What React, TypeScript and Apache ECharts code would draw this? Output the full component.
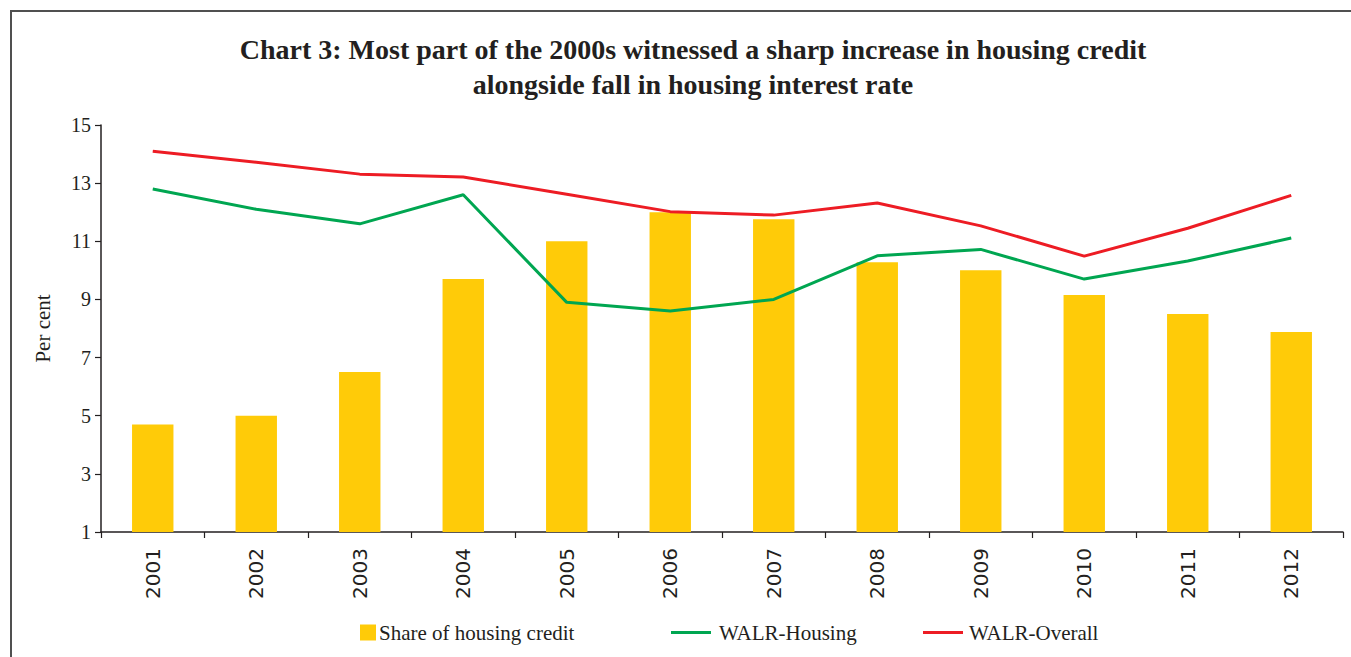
import React, { useEffect, useRef } from "react";
import * as echarts from "echarts";

const categories = ["2001", "2002", "2003", "2004", "2005", "2006", "2007", "2008", "2009", "2010", "2011", "2012"];
const shareHousingCredit = [4.7, 5.0, 6.5, 9.7, 11.0, 12.0, 11.76, 10.28, 10.0, 9.15, 8.5, 7.88];
const walrHousing = [12.8, 12.1, 11.6, 12.6, 8.9, 8.6, 9.0, 10.5, 10.72, 9.7, 10.32, 11.11];
const walrOverall = [14.1, 13.72, 13.31, 13.21, 12.62, 12.02, 11.9, 12.32, 11.53, 10.49, 11.45, 12.58];
const yTicks = [1, 3, 5, 7, 9, 11, 13, 15];

const serif = "'Liberation Serif', 'DejaVu Serif', serif";
const sans = "'DejaVu Sans', sans-serif";
const ink = "#231f20";

export default function App() {
  const ref = useRef<HTMLDivElement>(null);
  useEffect(() => {
    if (!ref.current) return;
    const chart = echarts.init(ref.current, null, { renderer: "svg" });
    chart.setOption({
      animation: false,
      backgroundColor: "#ffffff",
      title: {
        text: "Chart 3: Most part of the 2000s witnessed a sharp increase in housing credit\nalongside fall in housing interest rate",
        left: 688,
        top: 27,
        textAlign: "center",
        textStyle: { fontFamily: serif, fontWeight: "bold", fontSize: 28, lineHeight: 35, color: ink },
      },
      graphic: [
        { type: "line", shape: { x1: 10, y1: 11, x2: 1351, y2: 11 }, style: { stroke: "#505050", lineWidth: 2 } },
        { type: "line", shape: { x1: 11, y1: 10, x2: 11, y2: 657 }, style: { stroke: "#505050", lineWidth: 2 } },
      ],
      legend: [
        {
          data: [{ name: "Share of housing credit", icon: "rect" }],
          left: 355,
          top: 617,
          itemWidth: 16,
          itemHeight: 16,
          textStyle: { fontFamily: serif, fontSize: 21, color: ink, padding: [0, 0, 0, -2] },
          selectedMode: false,
        },
        {
          data: [{ name: "WALR-Housing", icon: "rect" }],
          left: 666,
          top: 617,
          itemWidth: 40,
          itemHeight: 3,
          textStyle: { fontFamily: serif, fontSize: 21, color: ink, padding: [0, 0, 0, 3] },
          selectedMode: false,
        },
        {
          data: [{ name: "WALR-Overall", icon: "rect" }],
          left: 918,
          top: 617,
          itemWidth: 40,
          itemHeight: 3,
          textStyle: { fontFamily: serif, fontSize: 21, color: ink, padding: [0, 0, 0, 1] },
          selectedMode: false,
        },
      ],
      grid: { left: 101, right: 8, top: 125, bottom: 125, containLabel: false },
      xAxis: {
        type: "category",
        data: categories,
        boundaryGap: true,
        axisLine: { lineStyle: { color: ink, width: 1.5 } },
        axisTick: { show: true, length: 6, lineStyle: { color: ink, width: 1.2 } },
        axisLabel: { rotate: 90, margin: 16, fontFamily: sans, fontSize: 20, color: ink },
        splitLine: { show: false },
      },
      yAxis: {
        type: "value",
        min: 1,
        max: 15,
        name: "Per cent",
        nameLocation: "middle",
        nameRotate: 90,
        nameGap: 48,
        nameTextStyle: { fontFamily: serif, fontSize: 21, color: ink },
        axisLine: { show: true, lineStyle: { color: ink, width: 1.5 } },
        axisTick: { show: true, length: 6, customValues: yTicks, lineStyle: { color: ink, width: 1.2 } },
        axisLabel: { customValues: yTicks, margin: 10, fontFamily: serif, fontSize: 20, color: ink },
        splitLine: { show: false },
      },
      series: [
        {
          name: "Share of housing credit",
          type: "bar",
          data: shareHousingCredit,
          barWidth: "40%",
          clip: true,
          itemStyle: { color: "#ffcb08" },
        },
        {
          name: "WALR-Housing",
          type: "line",
          data: walrHousing,
          symbol: "none",
          lineStyle: { color: "#00a651", width: 3 },
          itemStyle: { color: "#00a651" },
        },
        {
          name: "WALR-Overall",
          type: "line",
          data: walrOverall,
          symbol: "none",
          lineStyle: { color: "#ed1c24", width: 3 },
          itemStyle: { color: "#ed1c24" },
        },
      ],
    });
    return () => chart.dispose();
  }, []);
  return <div ref={ref} style={{ position: "fixed", left: 0, top: 0, width: 1351, height: 657 }} />;
}
